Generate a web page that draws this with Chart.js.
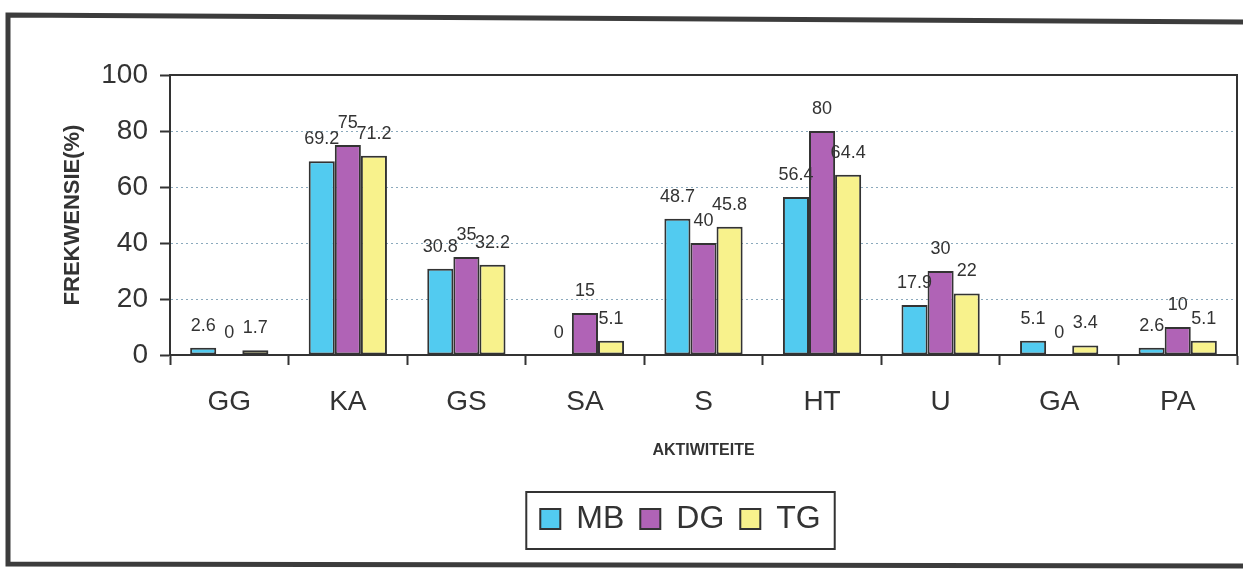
<!DOCTYPE html>
<html>
<head>
<meta charset="utf-8">
<script src="https://cdn.jsdelivr.net/npm/chart.js@4.4.1/dist/chart.umd.min.js"></script>
<style>
  html, body { margin: 0; padding: 0; background: #fff; }
  #wrap { width: 1243px; height: 569px; }
</style>
</head>
<body>
<div id="wrap"><canvas id="myChart" width="1243" height="569"></canvas></div>
<script>
"use strict";

// DATA
const categories = ["GG", "KA", "GS", "SA", "S", "HT", "U", "GA", "PA"];
const mbValues = [2.6, 69.2, 30.8, 0, 48.7, 56.4, 17.9, 5.1, 2.6];
const dgValues = [0, 75, 35, 15, 40, 80, 30, 0, 10];
const tgValues = [1.7, 71.2, 32.2, 5.1, 45.8, 64.4, 22, 3.4, 5.1];
const yTicks = [0, 20, 40, 60, 80, 100];

const FONT = "'Liberation Sans', Arial, sans-serif";
const INK = "#333333";

// frame round the whole picture + box round the plot
const framePlugin = {
  id: "frame",
  afterLayout(chart) {
    // legend sits a bit right of centre in the original
    const lg = chart.legend;
    const dx = 62;
    lg.left += dx;
    lg.right += dx;
    (lg.legendHitBoxes || []).forEach((b) => { b.left += dx; });
  },
  beforeDraw(chart) {
    const c = chart.ctx;
    c.save();
    c.strokeStyle = "#3c3c3c";
    c.lineWidth = 5;
    c.beginPath();
    c.moveTo(1243, 22);
    c.lineTo(8, 15);
    c.lineTo(8, 564);
    c.lineTo(1243, 566);
    c.stroke();
    c.restore();
  },
  afterDraw(chart) {
    const { ctx: c, chartArea: a } = chart;
    c.save();
    c.strokeStyle = INK;
    c.lineWidth = 2;
    c.beginPath();
    c.moveTo(a.left, a.top);
    c.lineTo(a.right, a.top);
    c.lineTo(a.right, a.bottom);
    c.stroke();

    // legend border
    const boxes = chart.legend.legendHitBoxes;
    if (boxes && boxes.length) {
      const last = boxes[boxes.length - 1];
      const l = boxes[0].left - 14;
      const r = last.left + last.width + 14;
      const t = boxes[0].top - 11;
      const b = boxes[0].top + boxes[0].height + 14;
      c.strokeRect(l, t, r - l, b - t);
    }
    c.restore();
  },
};

// value labels above each bar
const labelPlugin = {
  id: "barLabels",
  afterDatasetsDraw(chart) {
    const c = chart.ctx;
    c.save();
    c.font = "18px " + FONT;
    c.fillStyle = INK;
    c.textAlign = "center";
    c.textBaseline = "alphabetic";
    chart.data.datasets.forEach((ds, i) => {
      chart.getDatasetMeta(i).data.forEach((bar, j) => {
        c.fillText(String(ds.data[j]), bar.x, bar.y - 17);
      });
    });
    c.restore();
  },
};

const ctx = document.getElementById("myChart");

const chart = new Chart(ctx, {
  type: "bar",
  data: {
    labels: categories,
    datasets: [
      { label: "MB", data: mbValues, backgroundColor: "#52cbf0" },
      { label: "DG", data: dgValues, backgroundColor: "#b063b6" },
      { label: "TG", data: tgValues, backgroundColor: "#f8f28c" },
    ].map((d) => ({
      ...d,
      borderColor: INK,
      borderWidth: 2,
      borderSkipped: false,
      categoryPercentage: 0.66,
      barPercentage: 1.0,
    })),
  },
  options: {
    responsive: false,
    animation: false,
    layout: { padding: { left: 0, right: 6, top: 75, bottom: 24 } },
    plugins: {
      tooltip: { enabled: false },
      legend: {
        position: "bottom",
        labels: {
          color: INK,
          font: { family: FONT, size: 32 },
          boxWidth: 20,
          boxHeight: 20,
          padding: 16,
        },
      },
    },
    scales: {
      x: {
        afterFit: (scale) => { scale.height = 132; },
        grid: {
          offset: true,
          drawOnChartArea: false,
          tickLength: 10,
          tickColor: INK,
          tickWidth: 2,
        },
        border: { color: INK, width: 2 },
        ticks: {
          color: INK,
          font: { family: FONT, size: 28 },
          padding: 20,
        },
        title: {
          display: true,
          text: "AKTIWITEITE",
          color: INK,
          font: { family: FONT, size: 16, weight: "bold" },
          padding: { top: 0, bottom: 27 },
        },
      },
      y: {
        min: 0,
        max: 100,
        afterFit: (scale) => { scale.width = 170; },
        afterBuildTicks: (scale) => {
          scale.ticks = yTicks.map((v) => ({ value: v }));
        },
        grid: {
          color: (c) =>
            c.tick && (c.tick.value === 0 || c.tick.value === 100)
              ? "rgba(0,0,0,0)"
              : "rgba(100,140,165,0.75)",
          lineWidth: 1,
          tickLength: 10,
          tickColor: INK,
          tickWidth: 2,
        },
        border: { color: INK, width: 2, dash: [2, 3] },
        ticks: {
          color: INK,
          font: { family: FONT, size: 28 },
          padding: 12,
        },
        title: {
          display: true,
          text: "FREKWENSIE(%)",
          color: INK,
          font: { family: FONT, size: 22, weight: "bold" },
          padding: { top: 60, bottom: 0 },
        },
      },
    },
  },
  plugins: [framePlugin, labelPlugin],
});
</script>
</body>
</html>
